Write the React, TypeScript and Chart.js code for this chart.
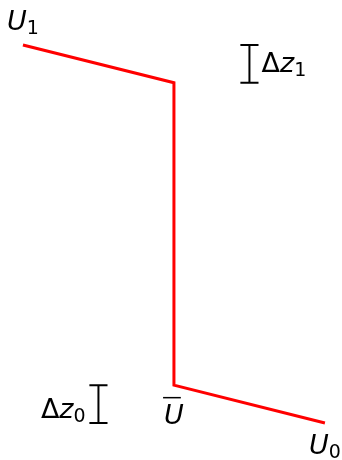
import React, { useEffect, useRef } from "react";
import { Chart, registerables } from "chart.js";

Chart.register(...registerables);

// Velocity profile U(z): U1 in the top layer, mean U in the middle, U0 at the bottom
const profileU = [-1, 0, 0, 1];
const profileZ = [10, 9, 1, 0];

// Layer-thickness brackets (Δz1 on the right, Δz0 on the left)
const bracket1U = [0.44, 0.56, 0.5, 0.5, 0.44, 0.56];
const bracket1Z = [9, 9, 9, 10, 10, 10];
const bracket0U = [-0.56, -0.44, -0.5, -0.5, -0.56, -0.44];
const bracket0Z = [0, 0, 0, 1, 1, 1];

// Text labels
const labelMain = ["U", "Δz", "U", "Δz", "U"];
const labelSub = ["1", "1", "", "0", "0"];
const labelBar = [false, false, true, false, false];
const labelU = [-1.0, 0.58, 0.0, -0.585, 1.0];
const labelZ = [10.4, 9.29, -0.03, 0.13, -0.82];
const labelAlign = ["center", "left", "center", "right", "center"];

const axisMinU = -1.152;
const axisMaxU = 1.113;
const axisMinZ = -0.979;
const axisMaxZ = 11.19;

const FONT_SIZE = 27;
const SUB_SIZE = 19;
const FAMILY = '"DejaVu Sans"';

function pts(us: number[], zs: number[]) {
  return us.map((u, i) => ({ x: u, y: zs[i] }));
}

function segmentsOf(main: string) {
  return main.split("").map((ch) => ({ t: ch, italic: /[A-Za-z]/.test(ch) }));
}

const labelPlugin = {
  id: "labels",
  afterDatasetsDraw(chart: any) {
    const ctx: CanvasRenderingContext2D = chart.ctx;
    const xs = chart.scales.x;
    const ys = chart.scales.y;
    ctx.save();
    ctx.fillStyle = "#000";
    ctx.strokeStyle = "#000";
    ctx.textBaseline = "alphabetic";
    ctx.textAlign = "left";
    for (let i = 0; i < labelMain.length; i++) {
      const segs = segmentsOf(labelMain[i]);
      let width = 0;
      const widths: number[] = [];
      for (const s of segs) {
        ctx.font = `${s.italic ? "italic " : ""}${FONT_SIZE}px ${FAMILY}`;
        const w = ctx.measureText(s.t).width;
        widths.push(w);
        width += w;
      }
      ctx.font = `${SUB_SIZE}px ${FAMILY}`;
      const subW = labelSub[i] ? ctx.measureText(labelSub[i]).width : 0;
      const total = width + subW;
      const px = xs.getPixelForValue(labelU[i]);
      const py = ys.getPixelForValue(labelZ[i]);
      let x0 = px;
      if (labelAlign[i] === "center") x0 = px - total / 2;
      else if (labelAlign[i] === "right") x0 = px - total;
      let x = x0;
      segs.forEach((s, k) => {
        ctx.font = `${s.italic ? "italic " : ""}${FONT_SIZE}px ${FAMILY}`;
        ctx.fillText(s.t, x, py);
        x += widths[k];
      });
      if (labelSub[i]) {
        ctx.font = `${SUB_SIZE}px ${FAMILY}`;
        ctx.fillText(labelSub[i], x, py + 4);
      }
      if (labelBar[i]) {
        const barY = py - FONT_SIZE * 0.98;
        ctx.lineWidth = 1.5;
        ctx.beginPath();
        ctx.moveTo(x0 - 1, barY);
        ctx.lineTo(x0 + width - 3, barY);
        ctx.stroke();
      }
    }
    ctx.restore();
  },
};

export default function App() {
  const ref = useRef<HTMLCanvasElement | null>(null);
  useEffect(() => {
    document.body.style.margin = "0";
    const canvas = ref.current;
    if (!canvas) return;
    const chart = new Chart(canvas, {
      type: "scatter",
      data: {
        datasets: [
          {
            data: pts(profileU, profileZ),
            showLine: true,
            borderColor: "#ff0000",
            borderWidth: 3,
            pointRadius: 0,
            borderJoinStyle: "miter",
          },
          {
            data: pts(bracket1U, bracket1Z),
            showLine: true,
            borderColor: "#000000",
            borderWidth: 2,
            pointRadius: 0,
          },
          {
            data: pts(bracket0U, bracket0Z),
            showLine: true,
            borderColor: "#000000",
            borderWidth: 2,
            pointRadius: 0,
          },
        ],
      },
      options: {
        animation: false,
        responsive: false,
        devicePixelRatio: 1,
        layout: { padding: 0 },
        plugins: { legend: { display: false }, tooltip: { enabled: false } },
        scales: {
          x: { type: "linear", display: false, min: axisMinU, max: axisMaxU },
          y: { type: "linear", display: false, min: axisMinZ, max: axisMaxZ },
        },
      },
      plugins: [labelPlugin],
    } as any);
    return () => chart.destroy();
  }, []);
  return (
    <div style={{ position: "absolute", left: 0, top: 0, width: 342, height: 460, background: "#fff" }}>
      <canvas ref={ref} width={342} height={460} style={{ display: "block" }} />
    </div>
  );
}
